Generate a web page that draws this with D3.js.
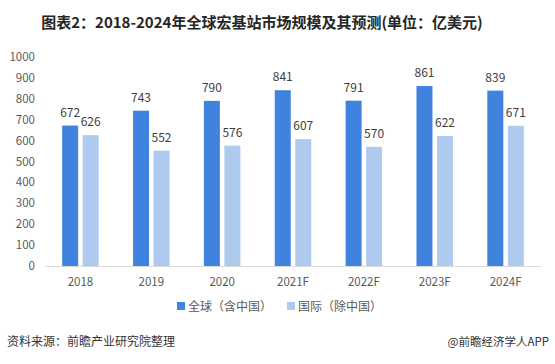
<!DOCTYPE html>
<html><head><meta charset="utf-8">
<script src="https://cdn.jsdelivr.net/npm/d3@7"></script>
<style>body{margin:0;background:#fff}svg{display:block}text{font-family:"Microsoft YaHei","Noto Sans CJK SC","Noto Sans",sans-serif}</style>
</head><body><svg id="c" width="555" height="364"></svg>
<script>
const categories = ["2018","2019","2020","2021F","2022F","2023F","2024F"];
const globalVals = [672,743,790,841,791,861,839];
const intlVals = [626,552,576,607,570,622,671];
const yTicks = [0,100,200,300,400,500,600,700,800,900,1000];
const seriesNames = ["全球（含中国）","国际（除中国）"];
const colors = ["#3f83df","#aecaef"];

const svg = d3.select("#c");
svg.append("text").attr("x",262).attr("y",28).attr("text-anchor","middle")
  .attr("font-size",15).attr("font-weight","bold").attr("fill","#262626")
  .text("图表2：2018-2024年全球宏基站市场规模及其预测(单位：亿美元)");

const x = d3.scaleBand().domain(categories).range([45,541]);
const y = d3.scaleLinear().domain([0,1000]).range([266,57]);

const g = svg.append("g");
g.selectAll(".yt").data(yTicks).join("text").attr("x",35).attr("y",d=>y(d)+4)
  .attr("text-anchor","end").attr("font-size",11.5).attr("fill","#595959").text(d=>d);
g.append("line").attr("x1",45).attr("x2",541).attr("y1",266.5).attr("y2",266.5).attr("stroke","#d9d9d9");
g.selectAll(".xt").data(categories).join("text").attr("x",d=>x(d)+x.bandwidth()/2).attr("y",286)
  .attr("text-anchor","middle").attr("font-size",11.5).attr("fill","#595959").text(d=>d);

const bw = 16, gap = 4.5;
[globalVals,intlVals].forEach((vals,si)=>{
  const off = si===0 ? -gap/2-bw : gap/2;
  g.selectAll(".b"+si).data(vals).join("rect")
    .attr("x",(d,i)=>x(categories[i])+x.bandwidth()/2+off).attr("width",bw)
    .attr("y",d=>y(d)).attr("height",d=>y(0)-y(d)).attr("fill",colors[si]);
  g.selectAll(".l"+si).data(vals).join("text")
    .attr("x",(d,i)=>x(categories[i])+x.bandwidth()/2+off+bw/2).attr("y",d=>y(d)-9)
    .attr("text-anchor","middle").attr("font-size",12).attr("fill","#404040").text(d=>d);
});

const leg = [{x:177,t:seriesNames[0],c:colors[0]},{x:287,t:seriesNames[1],c:colors[1]}];
leg.forEach(l=>{
  svg.append("rect").attr("x",l.x).attr("y",302).attr("width",8).attr("height",8).attr("fill",l.c);
  svg.append("text").attr("x",l.x+11).attr("y",310.5).attr("font-size",12).attr("fill","#595959").text(l.t);
});

svg.append("text").attr("x",7).attr("y",346).attr("font-size",12).attr("fill","#333").text("资料来源：前瞻产业研究院整理");
svg.append("text").attr("x",549).attr("y",346).attr("text-anchor","end").attr("font-size",11.5).attr("fill","#333").text("@前瞻经济学人APP");
</script></body></html>
